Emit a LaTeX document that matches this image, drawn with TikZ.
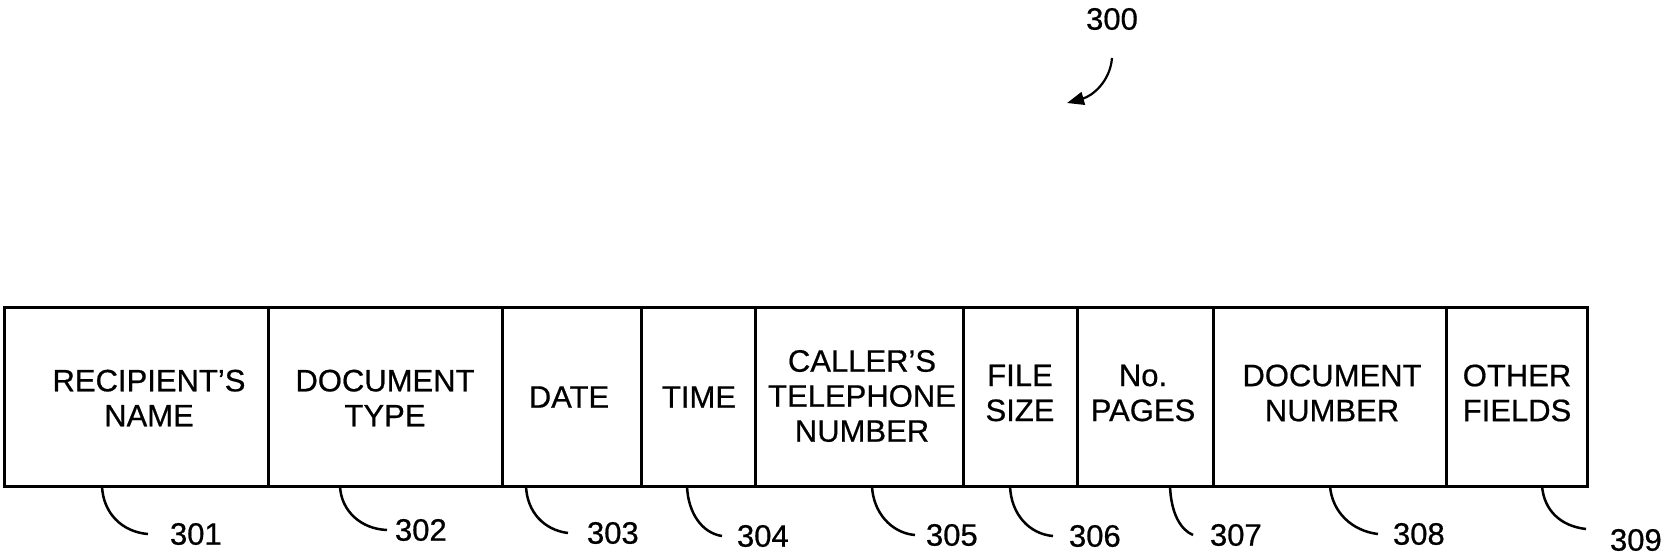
\documentclass[tikz,border=0pt]{standalone}
\usepackage{fontspec}
\setmainfont{Liberation Sans}[FakeBold=0.6]
\usetikzlibrary{arrows.meta}
\begin{document}
\begin{tikzpicture}[x=1pt,y=-1pt,
  cell/.style={draw, line width=3pt, minimum height=179pt, inner sep=0pt},
  txt/.style={align=center, font=\fontsize{31}{35}\selectfont, inner sep=0pt},
  num/.style={font=\fontsize{31}{35}\selectfont, inner sep=0pt, anchor=west},
  lead/.style={line width=2.5pt}]
\fill[white] (0,0) rectangle (1669,558);
\useasboundingbox (0,0) rectangle (1669,558);

% cells
\node[cell, minimum width=264pt] (c1) at (136,396.5) {};
\node[cell, minimum width=234pt] (c2) at (385,396.5) {};
\node[cell, minimum width=139pt] (c3) at (571.5,396.5) {};
\node[cell, minimum width=114pt] (c4) at (698,396.5) {};
\node[cell, minimum width=208pt] (c5) at (859,396.5) {};
\node[cell, minimum width=114pt] (c6) at (1020,396.5) {};
\node[cell, minimum width=136pt] (c7) at (1145,396.5) {};
\node[cell, minimum width=233pt] (c8) at (1329.5,396.5) {};
\node[cell, minimum width=141pt] (c9) at (1516.5,396.5) {};

% texts
\node[txt] (t1) at (149,398) {RECIPIENT'S\\NAME};
\node[txt] (t2) at (385,398) {DOCUMENT\\TYPE};
\node[txt] (t3) at (569,397) {DATE};
\node[txt] (t4) at (699,397) {TIME};
\node[txt] (t5) at (862,396) {CALLER'S\\TELEPHONE\\NUMBER};
\node[txt] (t6) at (1020,393) {FILE\\SIZE};
\node[txt] (t7) at (1143,393) {No.\\PAGES};
\node[txt] (t8) at (1332,393) {DOCUMENT\\NUMBER};
\node[txt] (t9) at (1517,393) {OTHER\\FIELDS};

% reference numerals
\node[num, outer xsep=22pt] (l1) at (148,534) {301};
\node[num, outer xsep=8pt]  (l2) at (387,530) {302};
\node[num, outer xsep=19pt] (l3) at (568,533) {303};
\node[num, outer xsep=15pt] (l4) at (722,536) {304};
\node[num, outer xsep=11pt] (l5) at (915,535) {305};
\node[num, outer xsep=16pt] (l6) at (1053,536) {306};
\node[num, outer xsep=17pt] (l7) at (1193,535) {307};
\node[num, outer xsep=15pt] (l8) at (1378,534) {308};
\node[num, anchor=north west, outer xsep=24pt, outer ysep=0pt] (l9) at (1586,529) {309};

% leader start points on the bottom edge
\coordinate (a1) at (102,486);
\coordinate (a2) at (340,486);
\coordinate (a3) at (526,486);
\coordinate (a4) at (687,486);
\coordinate (a5) at (872,486);
\coordinate (a6) at (1010,486);
\coordinate (a7) at (1170,486);
\coordinate (a8) at (1330,486);
\coordinate (a9) at (1542,486);

\draw[lead] (a1) .. controls +(1,27) and +(-26,-2) .. (l1.west);
\draw[lead] (a2) .. controls +(1,25) and +(-26,-1) .. (l2.west);
\draw[lead] (a3) .. controls +(1,26) and +(-24,-3) .. (l3.west);
\draw[lead] (a4) .. controls +(1,27) and +(-20,-3) .. (l4.west);
\draw[lead] (a5) .. controls +(1,26) and +(-24,-2) .. (l5.west);
\draw[lead] (a6) .. controls +(1,28) and +(-24,-2) .. (l6.west);
\draw[lead] (a7) .. controls +(1,28) and +(-12,-5) .. (l7.west);
\draw[lead] (a8) .. controls +(2,26) and +(-26,-3) .. (l8.west);
\draw[lead] (a9) .. controls +(2,24) and +(-26,-3) .. (l9.north west);

% figure number
\node[font=\fontsize{31}{35}\selectfont, inner sep=0pt, outer ysep=28pt] (n300) at (1112,19) {300};
\coordinate (p300) at (1067,103);
\draw[line width=2.2pt, -{Triangle[length=17pt,width=13pt]}] (n300.south) .. controls (1110,82) and (1092,96) .. (p300);
\end{tikzpicture}
\end{document}
